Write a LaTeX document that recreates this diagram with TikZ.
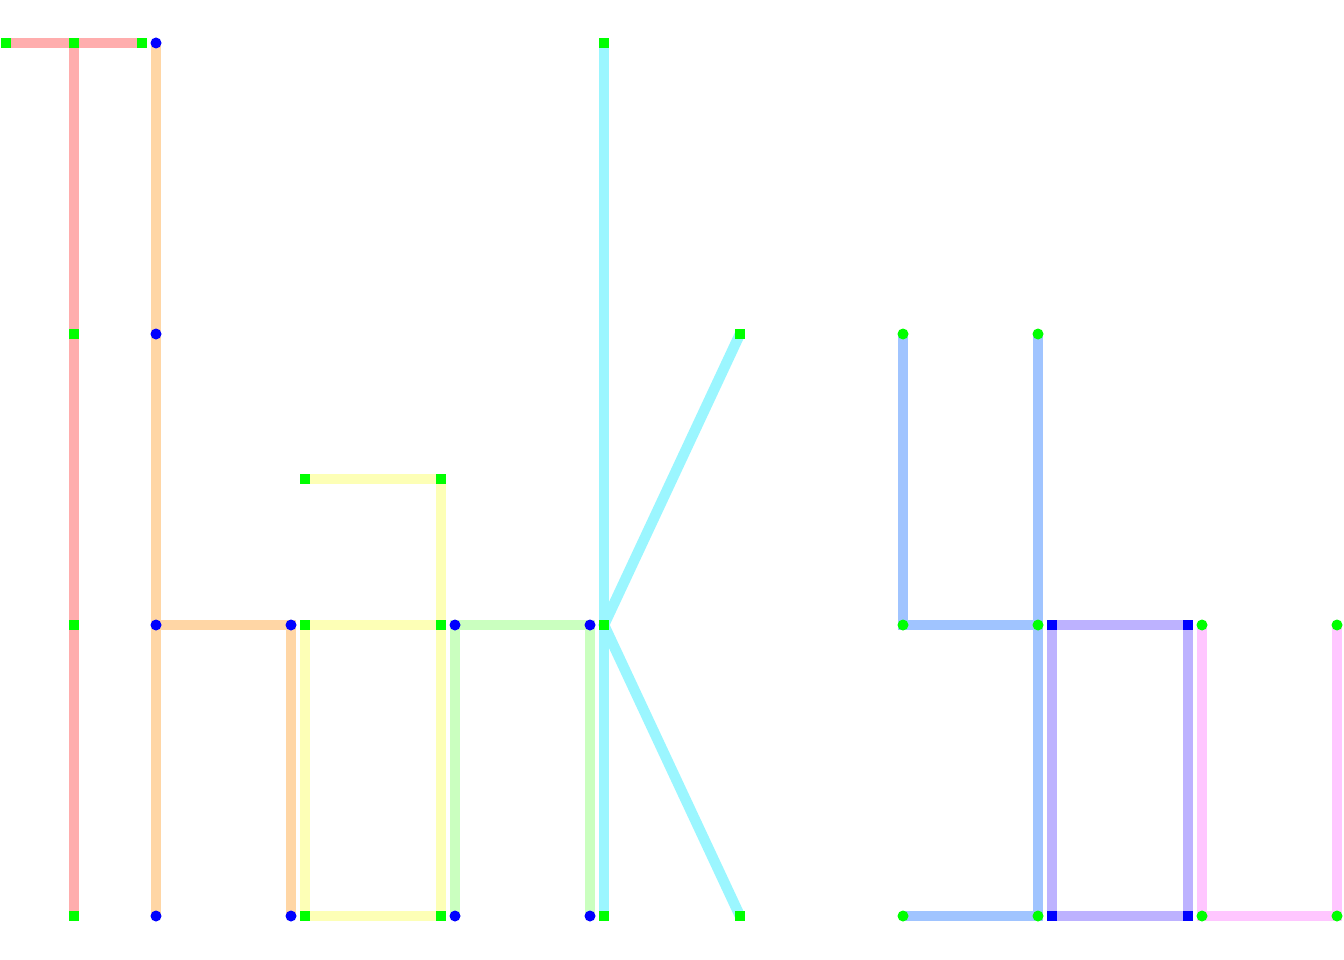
\documentclass[tikz,border=0pt]{standalone}
\definecolor{cred}{HTML}{FFADAD}
\definecolor{corange}{HTML}{FFD6A5}
\definecolor{cyellow}{HTML}{FDFFB6}
\definecolor{cgreen}{HTML}{CAFFBF}
\definecolor{ccyan}{HTML}{9BF6FF}
\definecolor{cblue}{HTML}{A0C4FF}
\definecolor{cpurple}{HTML}{BDB2FF}
\definecolor{cpink}{HTML}{FFC6FF}
\definecolor{mgreen}{HTML}{00FF00}
\definecolor{mblue}{HTML}{0000FF}
\tikzset{
  stroke/.style={line width=10.5pt, line cap=butt, line join=miter},
  gsq/.style={fill=mgreen, draw=none, minimum size=10pt, inner sep=0pt, rectangle},
  bsq/.style={fill=mblue, draw=none, minimum size=10pt, inner sep=0pt, rectangle},
  bdot/.style={fill=mblue, draw=none, minimum size=11pt, inner sep=0pt, circle},
  gdot/.style={fill=mgreen, draw=none, minimum size=11pt, inner sep=0pt, circle},
}
\begin{document}
\begin{tikzpicture}[x=1pt,y=-1pt]
\useasboundingbox (0,0) rectangle (1344,960);
% T
\coordinate (t1) at (6,43); \coordinate (t2) at (74,43); \coordinate (t3) at (142,43);
\coordinate (t4) at (74,334); \coordinate (t5) at (74,625); \coordinate (t6) at (74,916);
% h
\coordinate (h1) at (156,43); \coordinate (h2) at (156,334); \coordinate (h3) at (156,625);
\coordinate (h4) at (291,625); \coordinate (h5) at (156,916); \coordinate (h6) at (291,916);
% a
\coordinate (a1) at (305,479); \coordinate (a2) at (441,479); \coordinate (a3) at (305,625);
\coordinate (a4) at (441,625); \coordinate (a5) at (305,916); \coordinate (a6) at (441,916);
% n
\coordinate (n1) at (455,625); \coordinate (n2) at (590,625); \coordinate (n3) at (455,916); \coordinate (n4) at (590,916);
% k
\coordinate (k1) at (604,43); \coordinate (k2) at (740,334); \coordinate (k3) at (604,625);
\coordinate (k4) at (604,916); \coordinate (k5) at (740,916);
% y
\coordinate (y1) at (903,334); \coordinate (y2) at (1038,334); \coordinate (y3) at (903,625);
\coordinate (y4) at (1038,625); \coordinate (y5) at (903,916); \coordinate (y6) at (1038,916);
% o
\coordinate (o1) at (1052,625); \coordinate (o2) at (1188,625); \coordinate (o3) at (1052,916); \coordinate (o4) at (1188,916);
% u
\coordinate (u1) at (1202,625); \coordinate (u2) at (1337,625); \coordinate (u3) at (1202,916); \coordinate (u4) at (1337,916);

% strokes
\draw[stroke, cred] (t1) -- (t3);
\draw[stroke, cred] (t2) -- (t4) -- (t5) -- (t6);
\draw[stroke, corange] (h1) -- (h2) -- (h3) -- (h5);
\draw[stroke, corange] (h3) -- (h4) -- (h6);
\draw[stroke, cyellow] (a1) -- (a2) -- (a4) -- (a6) -- (a5) -- (a3) -- (a4);
\draw[stroke, cgreen] (n3) -- (n1) -- (n2) -- (n4);
\draw[stroke, ccyan] (k1) -- (k3) -- (k4);
\draw[stroke, ccyan] (k2) -- (k3) -- (k5);
\draw[stroke, cblue] (y1) -- (y3) -- (y4);
\draw[stroke, cblue] (y2) -- (y4) -- (y6) -- (y5);
\draw[stroke, cpurple] (o1) -- (o2) -- (o4) -- (o3) -- cycle;
\draw[stroke, cpink] (u1) -- (u3) -- (u4) -- (u2);

% markers
\foreach \p in {t1,t2,t3,t4,t5,t6,a1,a2,a3,a4,a5,a6,k1,k2,k3,k4,k5}
  \node[gsq] (m\p) at (\p) {};
\foreach \p in {h1,h2,h3,h4,h5,h6,n1,n2,n3,n4}
  \node[bdot] (m\p) at (\p) {};
\foreach \p in {y1,y2,y3,y4,y5,y6,u1,u2,u3,u4}
  \node[gdot] (m\p) at (\p) {};
\foreach \p in {o1,o2,o3,o4}
  \node[bsq] (m\p) at (\p) {};
\end{tikzpicture}
\end{document}
